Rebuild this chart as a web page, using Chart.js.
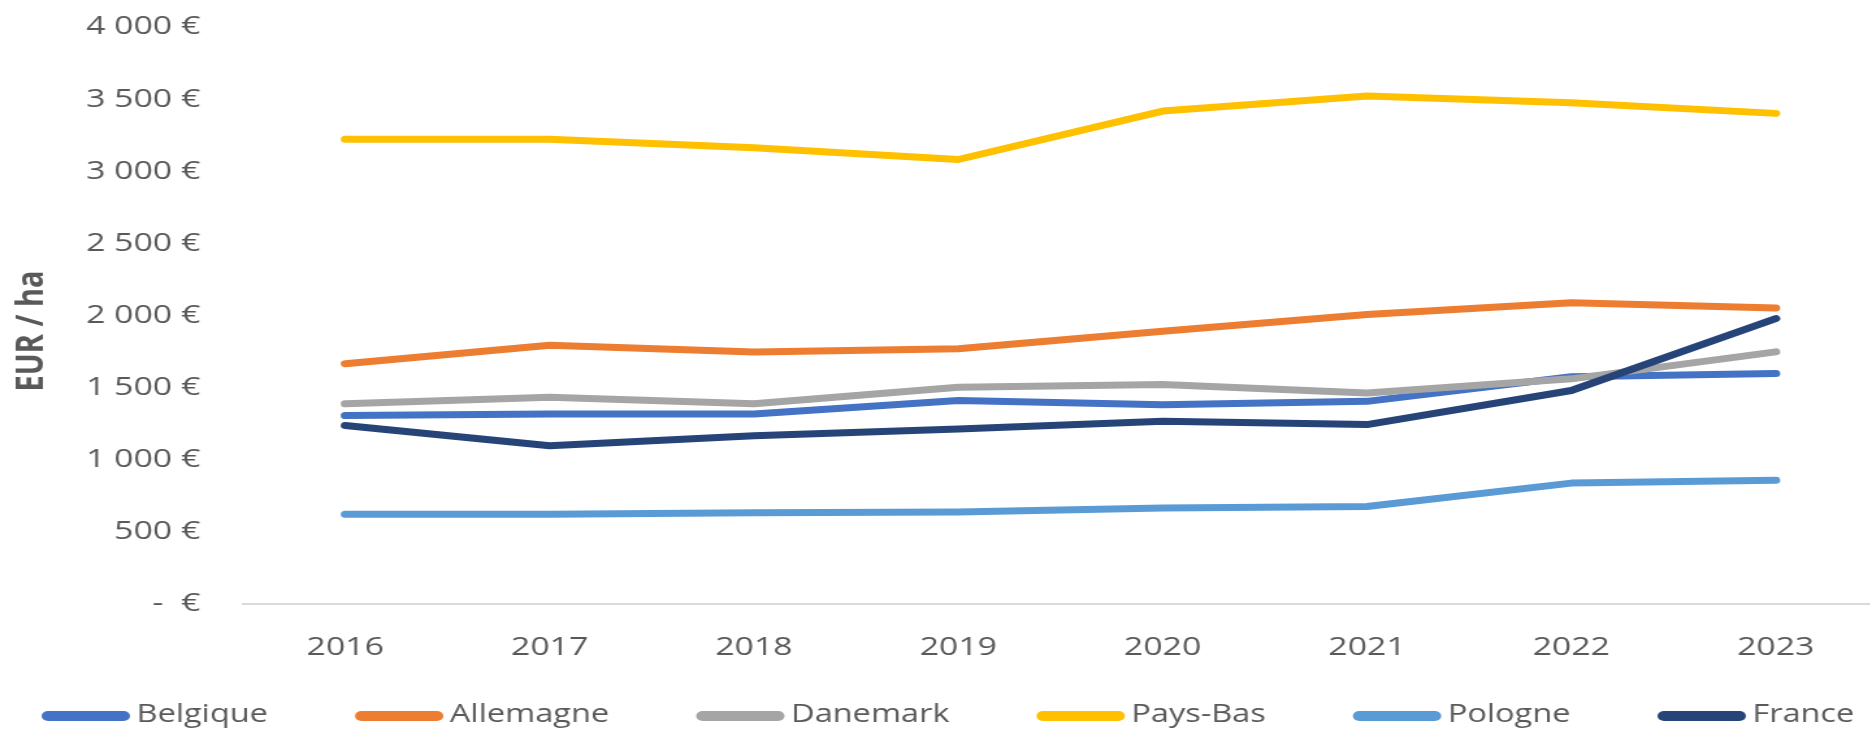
<!DOCTYPE html>
<html>
<head>
<meta charset="utf-8">
<script src="https://cdn.jsdelivr.net/npm/chart.js@4/dist/chart.umd.min.js"></script>
<style>
  html, body { margin: 0; padding: 0; background: #fff; overflow: hidden; }
  /* the reference is stretched horizontally, so draw narrow and stretch */
  #wrap { width: 1448px; height: 732px; transform: scaleX(1.3); transform-origin: 0 0; }
</style>
</head>
<body>
<div id="wrap"><canvas id="landChart"></canvas></div>
<script>
const years = ['2016', '2017', '2018', '2019', '2020', '2021', '2022', '2023'];
const countries = ['Belgique', 'Allemagne', 'Danemark', 'Pays-Bas', 'Pologne', 'France'];
const colors = ['#4472C4', '#ED7D31', '#A5A5A5', '#FFC000', '#5B9BD5', '#264478'];

const belgique = [1305, 1317, 1317, 1410, 1381, 1404, 1575, 1597];
const allemagne = [1665, 1793, 1747, 1769, 1890, 2006, 2087, 2052];
const danemark = [1387, 1433, 1387, 1502, 1520, 1462, 1560, 1747];
const paysBas = [3221, 3221, 3162, 3081, 3417, 3522, 3475, 3401];
const pologne = [621, 621, 632, 637, 664, 675, 837, 856];
const france = [1236, 1096, 1165, 1213, 1266, 1243, 1479, 1978];

const series = [belgique, allemagne, danemark, paysBas, pologne, france];

const yMax = 4000;
const yStep = 500;

function euro(v) {
  if (v === 0) return '-  €';
  return String(v).replace(/\B(?=(\d{3})+(?!\d))/g, ' ') + ' €';
}

const ctx = document.getElementById('landChart');

new Chart(ctx, {
  type: 'line',
  data: {
    labels: years,
    datasets: series.map((data, i) => ({
      label: countries[i],
      data,
      borderColor: colors[i],
      backgroundColor: colors[i],
      borderWidth: 7,
      borderCapStyle: 'round',
      borderJoinStyle: 'round',
      tension: 0,
      order: series.length - i,
    })),
  },
  options: {
    responsive: true,
    maintainAspectRatio: false,
    animation: false,
    devicePixelRatio: 1,
    layout: {
      padding: { top: 27, right: 1, bottom: 41, left: 0 },
    },
    plugins: {
      legend: { display: false },
      tooltip: { enabled: false },
      bottomLegend: {
        labels: countries,
        colors: colors,
      },
    },
    elements: {
      point: { radius: 0 },
    },
    scales: {
      x: {
        offset: true,
        grid: { display: false, drawTicks: false },
        border: { display: true, color: '#D9D9D9', width: 2 },
        ticks: {
          padding: 28,
          maxRotation: 0,
          autoSkip: false,
          color: '#595959',
          font: { family: '"Open Sans"', size: 26 },
        },
      },
      y: {
        min: 0,
        max: yMax,
        grid: { display: false, drawTicks: false },
        border: { display: false },
        ticks: {
          stepSize: yStep,
          padding: 33,
          color: '#595959',
          font: { family: '"Open Sans"', size: 26 },
          callback: (value) => euro(value),
        },
        afterFit(scale) {
          scale.width = 187;
          // tick padding is meant sideways only
          scale.paddingTop = 0;
          scale.paddingBottom = 0;
        },
      },
    },
  },
  plugins: [
    {
      id: 'bottomLegend',
      afterDraw(chart) {
        const opts = chart.options.plugins.bottomLegend;
        const c = chart.ctx;
        c.save();
        // legend row
        c.font = '25px "Open Sans"';
        c.textBaseline = 'middle';
        c.lineCap = 'round';
        c.lineWidth = 10;
        let x = 32;
        const y = 715;
        opts.labels.forEach((name, i) => {
          c.strokeStyle = opts.colors[i];
          c.beginPath();
          c.moveTo(x + 5, y + 1);
          c.lineTo(x + 63, y + 1);
          c.stroke();
          c.fillStyle = '#595959';
          c.fillText(name, x + 73, y);
          x += 73 + c.measureText(name).width + 67;
        });
        // y axis title
        c.font = 'bold 29px "Open Sans"';
        c.fillStyle = '#595959';
        c.textAlign = 'center';
        c.translate(25, 331);
        c.rotate(-Math.PI / 2);
        c.fillText('EUR / ha', 0, 0);
        c.restore();
      },
    },
  ],
});
</script>
</body>
</html>
